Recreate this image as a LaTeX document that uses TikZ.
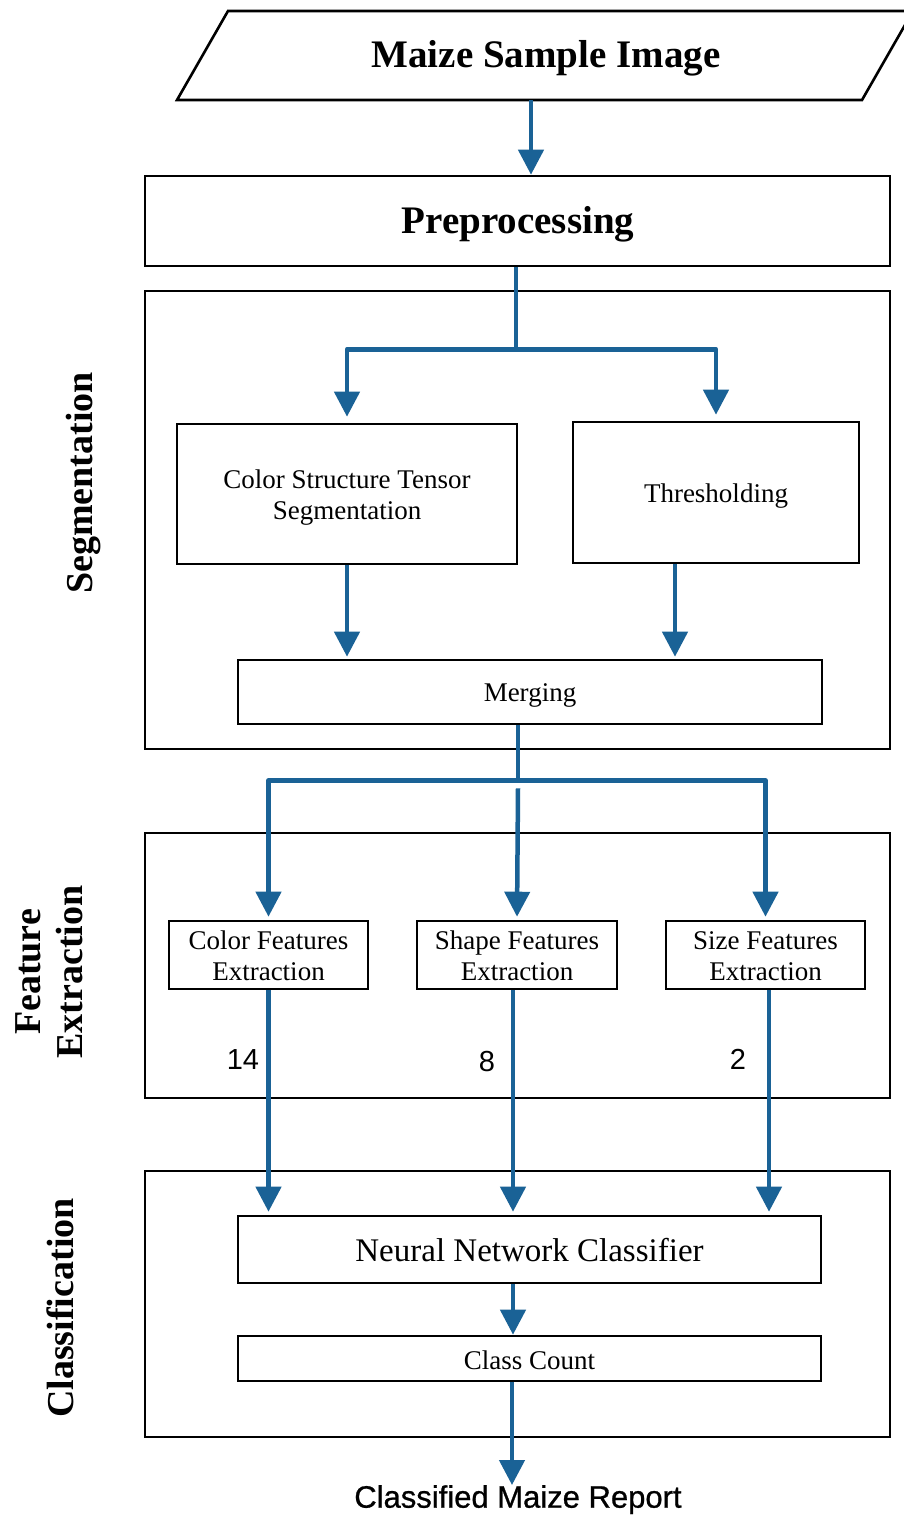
\documentclass[tikz,border=0pt]{standalone}
\usepackage{fontspec}
\setmainfont{Liberation Serif}
\newfontfamily\sansf{Liberation Sans}
\newfontfamily\sansmed[FakeBold=0.8]{Liberation Sans}
\usetikzlibrary{arrows.meta,calc}
\definecolor{flowblue}{RGB}{26,98,150}
\begin{document}
\begin{tikzpicture}[x=1pt,y=-1pt,
  box/.style={draw=black,line width=2.6pt,inner sep=0pt},
  btext/.style={inner sep=0pt,align=center,font=\fontsize{27}{31}\selectfont},
  boxt/.style={label={[btext,yshift=-3.5pt]center:#1}},
  boxtf/.style={label={[btext,yshift=-1pt]center:#1}},
  frame/.style={draw=black,line width=2.6pt,inner sep=0pt},
  title/.style={font=\fontsize{39}{42}\selectfont\bfseries,inner sep=0pt,align=center},
  side/.style={font=\fontsize{38}{42}\selectfont\bfseries,inner sep=0pt,align=center,rotate=90},
  flow/.style={draw=flowblue,line width=4.5pt,line join=round,-{Triangle[length=25pt,width=25pt]}},
  flowline/.style={draw=flowblue,line width=4.5pt,line join=round},
  num/.style={font=\sansf\fontsize{29}{32}\selectfont,inner sep=0pt},
]
\useasboundingbox (0,0) rectangle (903,1515);
\fill[white] (0,0) rectangle (903,1515);

% input parallelogram
\node[inner sep=0pt,minimum width=685pt,minimum height=89pt] (input) at (545,55.5) {};
\draw[frame,line join=miter] (177,100) -- (862,100) -- (913,11) -- (228,11) -- cycle;
\node[title] (inputtext) at (546,58) {Maize Sample Image};

% preprocessing
\node[box,minimum width=745pt,minimum height=90pt] (pre) at (517.5,221) {};
\node[title] (pretext) at (518,224) {Preprocessing};

% segmentation frame
\node[frame,minimum width=745pt,minimum height=458pt] (segframe) at (517.5,520) {};
\node[side] (seglabel) at (84,483) {Segmentation};

\node[box,minimum width=340pt,minimum height=140pt,boxt={Color Structure Tensor\\Segmentation}] (cst) at (347,494) {};
\node[box,minimum width=286pt,minimum height=141pt,boxt={Thresholding}] (thr) at (716,492.5) {};
\node[box,minimum width=584pt,minimum height=64pt,boxt={Merging}] (merge) at (530,692) {};

% feature extraction frame
\node[frame,minimum width=745pt,minimum height=265pt] (featframe) at (517.5,965.5) {};
\node[side] (featlabel) at (49,972) {Feature\\Extraction};

\node[box,minimum width=199pt,minimum height=68pt,boxtf={Color Features\\Extraction}] (colorf) at (268.5,955) {};
\node[box,minimum width=200pt,minimum height=68pt,boxtf={Shape Features\\Extraction}] (shapef) at (517,955) {};
\node[box,minimum width=199pt,minimum height=68pt,boxtf={Size Features\\Extraction}] (sizef) at (765.5,955) {};

\node[num] (n14) at (243,1060) {14};
\node[num] (n8) at (487,1062) {8};
\node[num] (n2) at (738,1059) {2};

% classification frame
\node[frame,minimum width=745pt,minimum height=266pt] (classframe) at (517.5,1304) {};
\node[side] (classlabel) at (60,1308) {Classification};

\node[box,minimum width=583pt,minimum height=67pt,boxtf={\fontsize{33}{36}\selectfont Neural Network Classifier}] (nn) at (529.5,1249.5) {};
\node[box,minimum width=583pt,minimum height=45pt,label={[btext,yshift=-2pt]center:Class Count}] (cc) at (529.5,1358.5) {};

\node[font=\sansmed\fontsize{31}{34}\selectfont,inner sep=0pt,anchor=north] (report) at (518,1485) {Classified Maize Report};

% connectors
\draw[flow] ([xshift=-14pt]input.south) -- ([xshift=-14pt]input.south |- pre.north);

\draw[flowline] ([xshift=-1.5pt]pre.south) -- ++(0,82) coordinate (j1);
\draw[flow,shorten >=6pt] (j1) -| (cst.north);
\draw[flow,shorten >=6pt] (j1) -| (thr.north);

\draw[flow,shorten >=2pt] (cst.south) -- (cst.south |- merge.north);
\draw[flow,shorten >=2pt] ([xshift=-41pt]thr.south) -- ([xshift=-41pt]thr.south |- merge.north);

\draw[flowline] ([xshift=-12pt]merge.south) -- ++(0,55) coordinate (j2);
\draw[flow,shorten >=3pt] (j2) -| (colorf.north);
\draw[flow,shorten >=3pt] (j2) -| (sizef.north);
\draw[flow,shorten >=3pt] ([yshift=-8pt]j2) -- (shapef.north);

\draw[flow,shorten >=3pt] (colorf.south) -- (colorf.south |- nn.north);
\draw[flow,shorten >=3pt] ([xshift=-4pt]shapef.south) -- ([xshift=-4pt]shapef.south |- nn.north);
\draw[flow,shorten >=3pt] ([xshift=3.5pt]sizef.south) -- ([xshift=3.5pt]sizef.south |- nn.north);

\draw[flow] ([xshift=-16.5pt]nn.south) -- ([xshift=-16.5pt]nn.south |- cc.north);
\draw[flow] ([xshift=-17.5pt]cc.south) -- ([xshift=-17.5pt]cc.south |- report.north);
\end{tikzpicture}
\end{document}
